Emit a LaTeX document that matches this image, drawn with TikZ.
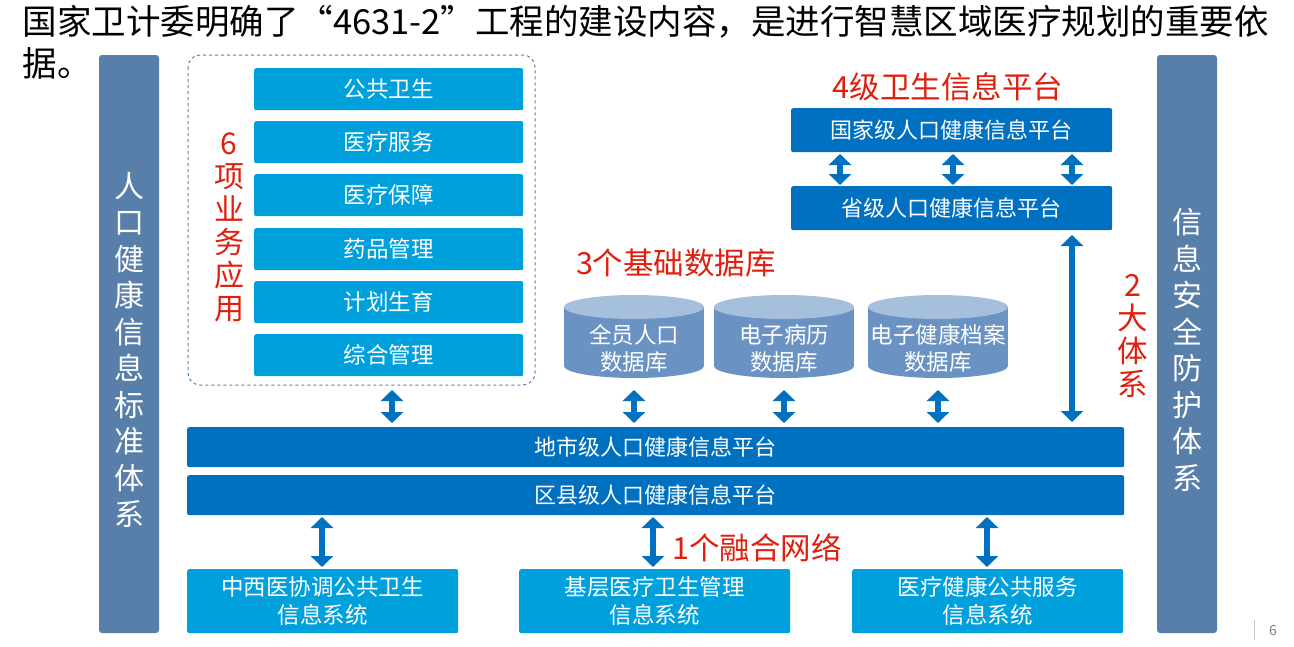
\documentclass[tikz,border=0pt]{standalone}
\usepackage{fontspec}
\setmainfont{Noto Sans CJK SC}
\usetikzlibrary{arrows.meta}
\definecolor{dblue}{HTML}{0070C0}
\definecolor{lblue}{HTML}{00A0DC}
\definecolor{sbar}{HTML}{587FAA}
\definecolor{cyl}{HTML}{6A93C4}
\definecolor{cyltop}{HTML}{A6BFDC}
\definecolor{myred}{HTML}{E0200F}
\tikzset{
 x=1pt,y=-1pt,
 lbox/.style={fill=lblue,rounded corners=2pt,text=white,font=\fontsize{22.5}{28}\selectfont,align=center},
 dbox/.style={fill=dblue,rounded corners=2pt,text=white,font=\fontsize{22}{28}\selectfont,align=center},
 bar/.style={fill=sbar,rounded corners=3pt},
 bartxt/.style={text=white,font=\fontsize{30}{36.5}\selectfont,align=center},
 redtxt/.style={text=myred,font=\fontsize{30.5}{33}\selectfont,align=center},
 darr/.style={draw=dblue,line width=6pt,{Triangle[width=22pt,length=11pt]}-{Triangle[width=22pt,length=11pt]}},
}
\newcommand{\cylinder}[4]{% name, cx, cy-top, cy-bot
 \fill[cyl] (#2-70,#3) rectangle (#2+70,#4);
 \fill[cyl] (#2,#4) ellipse (70 and 12);
 \fill[cyltop] (#2,#3) ellipse (70 and 12);
 \coordinate (#1t) at (#2,#3-12);
 \coordinate (#1b) at (#2,#4+12);
}
\begin{document}
\begin{tikzpicture}
\useasboundingbox (0,0) rectangle (1294,646);
\fill[white] (0,0) rectangle (1294,646);
\node[anchor=west,font=\fontsize{34.5}{42}\selectfont,align=left] (title) at (19,42) {国家卫计委明确了“4631-2”工程的建设内容，是进行智慧区域医疗规划的重要依\\据。};
% side bars
\fill[bar] (99,55) rectangle (159,633);
\node[bartxt] (lbar) at (129,350) {人\\口\\健\\康\\信\\息\\标\\准\\体\\系};
\fill[bar] (1157,55) rectangle (1217,633);
\node[bartxt] (rbar) at (1187,350) {信\\息\\安\\全\\防\\护\\体\\系};
% dashed box
\draw[sbar,dashed,rounded corners=12pt,line width=1pt] (188,55) rectangle (535,385);
\node[redtxt,font=\fontsize{30}{33}\selectfont] (six) at (229,227) {6\\项\\业\\务\\应\\用};
\foreach \t/\y [count=\i] in {公共卫生/68,医疗服务/121,医疗保障/174,药品管理/228,计划生育/281,综合管理/334}{
 \node[lbox,minimum width=269pt,minimum height=42pt,anchor=north west] (app\i) at (254,\y) {\t};
}
% 4 level
\node[redtxt] (four) at (948,87) {4级卫生信息平台};
\node[dbox,minimum width=321pt,minimum height=44pt,anchor=north west] (nat) at (791,108) {国家级人口健康信息平台};
\node[dbox,minimum width=321pt,minimum height=44pt,anchor=north west] (prov) at (791,186) {省级人口健康信息平台};
\foreach \x in {840,953,1072}{
 \draw[darr] (\x,154) -- (\x,185);
}
% databases
\node[redtxt] (three) at (676,263) {3个基础数据库};
\cylinder{dba}{634}{307}{366}
\cylinder{dbb}{784}{307}{366}
\cylinder{dbc}{938}{307}{366}
\node[text=white,font=\fontsize{22.5}{27}\selectfont,align=center] (ta) at (634,348) {全员人口\\数据库};
\node[text=white,font=\fontsize{22.5}{27}\selectfont,align=center] (tb) at (784,348) {电子病历\\数据库};
\node[text=white,font=\fontsize{22.5}{27}\selectfont,align=center] (tc) at (938,348) {电子健康档案\\数据库};
% platforms
\node[dbox,minimum width=937pt,minimum height=40pt,anchor=north west] (city) at (187,427) {地市级人口健康信息平台};
\node[dbox,minimum width=937pt,minimum height=40pt,anchor=north west] (county) at (187,475) {区县级人口健康信息平台};
\foreach \x in {392,634,784,938}{
 \draw[darr] (\x,390) -- (\x,423);
}
\draw[darr] (1072,235) -- (1072,422);
\node[redtxt] (two) at (1133,336) {2\\大\\体\\系};
% bottom
\node[lbox,minimum width=271pt,minimum height=64pt,anchor=north west] (b1) at (187,569) {中西医协调公共卫生\\信息系统};
\node[lbox,minimum width=271pt,minimum height=64pt,anchor=north west] (b2) at (519,569) {基层医疗卫生管理\\信息系统};
\node[lbox,minimum width=271pt,minimum height=64pt,anchor=north west] (b3) at (852,569) {医疗健康公共服务\\信息系统};
\draw[darr] (322,517) -- (322,567);
\draw[darr] (653,517) -- (653,567);
\draw[darr] (987,517) -- (987,567);
\node[redtxt] (one) at (757,548) {1个融合网络};
% page number
\draw[gray!40] (1254,620) -- (1254,640);
\node[text=gray,font=\fontsize{14}{16}\selectfont] (pn) at (1273,630) {6};
\end{tikzpicture}
\end{document}
